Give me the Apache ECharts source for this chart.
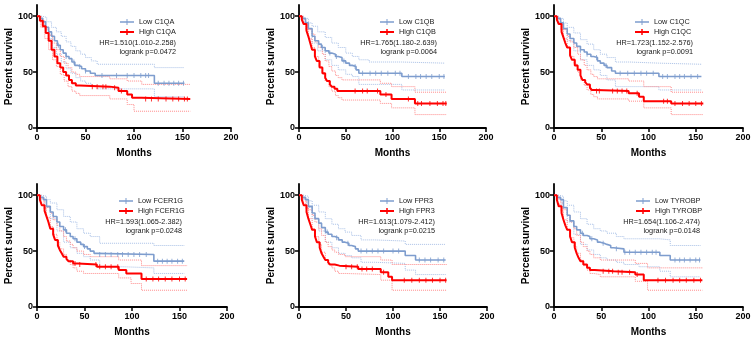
<!DOCTYPE html>
<html>
<head>
<meta charset="utf-8">
<script src="https://cdn.jsdelivr.net/npm/echarts@6/dist/echarts.min.js"></script>
<style>html,body{margin:0;padding:0;background:#fff}#chart{width:756px;height:341px}</style>
</head>
<body>
<div id="chart"></div>
<script>
// KM curves: [month, percent survival], step drops at each point
const c1qaLow = [[0,100],[3,98],[6,95],[9,90],[12,86],[15,82],[18,78],[21,74],[24,70],[27,67],[30,64],[33,62],[36,59],[39,56],[42,55],[46,53],[50,51],[55,49],[60,47],[121,40],[152,40]];
const c1qaLowUp = [[0,100],[5,99],[10,95],[15,90],[20,86],[25,82],[30,77],[35,73],[40,69],[45,66],[50,63],[56,60],[62,57],[121,54],[152,54]];
const c1qaLowLo = [[0,100],[4,95],[8,88],[12,80],[16,72],[20,66],[25,59],[30,53],[35,49],[40,45],[45,42],[50,40],[56,38],[62,35],[121,28],[152,28]];
const c1qaHigh = [[0,100],[3,96],[6,91],[9,85],[12,78],[15,70],[18,64],[21,58],[24,54],[27,50],[30,47],[33,43],[36,40],[40,38],[44,37],[75,36],[84,33],[93,30],[98,27],[108,26],[158,26]];
const c1qaHighUp = [[0,100],[4,96],[8,90],[12,83],[16,76],[20,70],[24,64],[28,58],[32,54],[36,50],[40,48],[44,46],[75,44],[93,42],[108,39],[158,39]];
const c1qaHighLo = [[0,100],[4,90],[8,80],[12,70],[16,61],[20,55],[24,48],[28,42],[32,37],[36,33],[40,31],[44,29],[75,26],[93,21],[100,15],[158,15]];
const c1qaLowCens = [22,30,38,44,50,67,82,93,100,107,112,115,125,131,136,141,146,151];
const c1qaHighCens = [57,62,68,71,80,87,112,118,125,133,140,146,152,155];

const c1qbLow = [[0,100],[3,98],[7,94],[10,89],[14,82],[17,78],[21,75],[24,72],[28,69],[32,67],[35,66],[39,64],[42,63],[46,60],[50,58],[54,56],[57,55],[61,52],[64,49],[110,46],[156,46]];
const c1qbLowUp = [[0,100],[5,98],[10,94],[14,91],[20,86],[28,81],[35,76],[42,72],[50,67],[57,64],[64,61],[75,59],[110,58],[156,58]];
const c1qbLowLo = [[0,100],[4,95],[8,88],[14,76],[20,69],[28,61],[35,56],[42,52],[50,48],[57,46],[64,39],[110,34],[156,34]];
const c1qbHigh = [[0,100],[3,97],[5,93],[8,87],[10,82],[12,76],[14,70],[17,64],[19,60],[22,54],[25,49],[28,45],[30,42],[33,39],[35,37],[38,35],[41,33],[87,30],[99,26],[124,22],[158,22]];
const c1qbHighUp = [[0,100],[4,97],[7,94],[10,88],[14,84],[17,77],[21,72],[25,66],[28,60],[32,55],[35,51],[39,47],[42,45],[46,43],[87,40],[99,37],[124,32],[158,32]];
const c1qbHighLo = [[0,100],[4,94],[7,88],[10,80],[14,72],[17,64],[21,55],[25,48],[28,42],[32,37],[35,33],[39,29],[42,27],[46,25],[87,22],[99,18],[124,12],[158,12]];
const c1qbLowCens = [25,33,40,48,60,68,76,82,88,95,103,108,117,125,130,136,142,150,155];
const c1qbHighCens = [60,68,73,84,93,117,127,131,140,148,154,157];

const c1qcLow = [[0,100],[3,98],[7,94],[10,89],[14,84],[17,80],[21,76],[24,73],[28,70],[32,68],[35,66],[39,64],[42,63],[46,60],[49,58],[53,56],[56,54],[61,51],[65,49],[111,46],[156,46]];
const c1qcLowUp = [[0,100],[5,98],[10,94],[14,90],[21,85],[28,79],[35,75],[42,70],[49,66],[56,63],[65,59],[80,58],[111,57],[156,57]];
const c1qcLowLo = [[0,100],[4,95],[8,88],[14,78],[21,69],[28,61],[35,56],[42,52],[49,47],[56,43],[65,37],[111,34],[156,34]];
const c1qcHigh = [[0,100],[3,97],[5,93],[8,86],[10,81],[12,76],[14,72],[17,65],[19,61],[22,56],[25,52],[28,47],[30,43],[33,41],[35,39],[38,36],[40,34],[44,33],[79,31],[90,28],[95,24],[124,22],[158,22]];
const c1qcHighUp = [[0,100],[4,97],[7,93],[10,88],[14,82],[17,77],[21,72],[25,66],[28,61],[32,56],[35,52],[39,48],[42,46],[46,44],[79,42],[95,37],[124,32],[158,32]];
const c1qcHighLo = [[0,100],[4,94],[7,88],[10,80],[14,72],[17,64],[21,57],[25,50],[28,43],[32,38],[35,34],[39,30],[42,28],[46,26],[79,24],[95,18],[124,12],[158,12]];
const c1qcLowCens = [28,35,45,55,70,78,85,92,98,105,115,120,128,133,138,145,152];
const c1qcHighCens = [45,48,62,67,72,77,88,116,120,128,136,143,150,156];

const fcer1gLow = [[0,100],[3,98],[7,96],[10,90],[14,85],[17,81],[21,76],[24,72],[28,69],[31,66],[35,63],[38,61],[42,58],[46,56],[49,54],[53,52],[56,50],[60,48],[63,47],[123,41],[155,41]];
const fcer1gLowUp = [[0,100],[5,99],[10,96],[14,93],[21,87],[28,81],[35,76],[42,70],[49,66],[56,63],[66,57],[123,55],[155,55]];
const fcer1gLowLo = [[0,100],[4,96],[8,89],[14,79],[21,68],[28,58],[35,53],[42,48],[49,45],[56,42],[66,36],[90,35],[123,30],[155,30]];
const fcer1gHigh = [[0,100],[3,96],[5,91],[8,86],[10,81],[12,76],[14,70],[17,65],[19,60],[22,55],[24,51],[26,48],[28,45],[31,43],[33,41],[38,39],[43,38],[63,36],[86,33],[94,30],[110,25],[158,25]];
const fcer1gHighUp = [[0,100],[4,97],[7,94],[10,89],[14,84],[17,78],[21,73],[24,68],[28,63],[31,59],[35,56],[38,53],[42,50],[49,47],[56,45],[86,42],[110,37],[158,37]];
const fcer1gHighLo = [[0,100],[4,93],[7,88],[10,80],[14,72],[17,65],[21,58],[24,52],[28,47],[31,42],[35,38],[38,35],[42,32],[49,30],[86,26],[99,21],[110,15],[158,15]];
const fcer1gLowCens = [30,40,50,66,72,78,85,90,96,102,108,115,127,132,137,142,148,153];
const fcer1gHighCens = [40,45,62,66,72,78,85,115,122,128,135,142,150,156];

const fpr3Low = [[0,100],[3,98],[7,96],[10,90],[14,84],[17,79],[21,75],[24,71],[28,67],[31,65],[35,63],[38,62],[42,60],[46,58],[49,57],[53,55],[56,54],[60,52],[63,50],[113,46],[124,42],[156,42]];
const fpr3LowUp = [[0,100],[5,99],[10,95],[14,91],[21,85],[28,79],[35,74],[42,70],[49,67],[56,64],[66,60],[80,59],[113,56],[156,56]];
const fpr3LowLo = [[0,100],[4,96],[8,89],[14,79],[21,68],[28,58],[35,53],[42,48],[49,46],[56,44],[66,40],[80,39],[113,33],[124,29],[156,29]];
const fpr3High = [[0,100],[3,96],[5,91],[8,85],[10,79],[12,74],[14,69],[17,63],[19,58],[22,53],[24,48],[26,45],[28,42],[31,40],[33,38],[38,37],[43,36],[63,34],[87,31],[95,27],[99,24],[157,24]];
const fpr3HighUp = [[0,100],[4,97],[7,94],[10,87],[14,82],[17,76],[21,70],[24,64],[28,58],[31,54],[35,51],[38,49],[42,47],[49,45],[87,42],[99,38],[157,38]];
const fpr3HighLo = [[0,100],[4,93],[7,88],[10,79],[14,70],[17,63],[21,56],[24,49],[28,42],[31,38],[35,35],[38,32],[42,30],[49,29],[87,24],[99,15],[157,15]];
const fpr3LowCens = [30,40,52,66,72,78,84,90,100,106,128,134,140,148,154];
const fpr3HighCens = [50,56,62,67,72,78,90,112,120,128,135,142,150,156];

const tyrobpLow = [[0,100],[3,98],[7,96],[10,89],[14,82],[17,77],[21,72],[24,69],[28,66],[31,64],[35,63],[38,61],[42,60],[46,58],[49,57],[53,56],[56,55],[60,53],[63,52],[74,49],[112,46],[123,42],[155,42]];
const tyrobpLowUp = [[0,100],[5,99],[10,95],[14,91],[21,85],[28,79],[35,74],[42,70],[49,68],[56,66],[66,63],[74,61],[112,60],[123,55],[155,55]];
const tyrobpLowLo = [[0,100],[4,96],[8,88],[14,76],[21,65],[28,56],[35,51],[42,47],[49,44],[56,42],[66,40],[74,38],[90,36],[112,32],[123,27],[155,27]];
const tyrobpHigh = [[0,100],[3,96],[5,90],[8,84],[10,78],[12,73],[14,69],[17,63],[19,58],[22,53],[24,48],[26,44],[28,41],[31,38],[35,35],[38,33],[43,32],[63,31],[86,29],[95,24],[157,24]];
const tyrobpHighUp = [[0,100],[4,97],[7,93],[10,87],[14,82],[17,76],[21,70],[24,64],[28,58],[31,54],[35,50],[38,47],[42,44],[49,42],[86,39],[99,35],[157,35]];
const tyrobpHighLo = [[0,100],[4,92],[7,86],[10,78],[14,69],[17,62],[21,54],[24,48],[28,42],[31,37],[35,33],[38,30],[42,29],[49,27],[86,23],[99,15],[157,15]];
const tyrobpLowCens = [30,40,52,66,75,80,86,92,98,104,108,128,133,138,144,150,154];
const tyrobpHighCens = [52,58,62,68,72,80,88,110,118,126,133,140,148,155];

const genes = ['C1QA', 'C1QB', 'C1QC', 'FCER1G', 'FPR3', 'TYROBP'];
const hrLabels = ['HR=1.510(1.010-2.258)', 'HR=1.765(1.180-2.639)', 'HR=1.723(1.152-2.576)',
                  'HR=1.593(1.065-2.382)', 'HR=1.613(1.079-2.412)', 'HR=1.654(1.106-2.474)'];
const pLabels = ['logrank p=0.0472', 'logrank p=0.0064', 'logrank p=0.0091',
                 'logrank p=0.0248', 'logrank p=0.0215', 'logrank p=0.0148'];
const xTicks = [0, 50, 100, 150, 200];
const yTicks = [0, 50, 100];

const panels = [
  [c1qaLow, c1qaLowUp, c1qaLowLo, c1qaHigh, c1qaHighUp, c1qaHighLo, c1qaLowCens, c1qaHighCens],
  [c1qbLow, c1qbLowUp, c1qbLowLo, c1qbHigh, c1qbHighUp, c1qbHighLo, c1qbLowCens, c1qbHighCens],
  [c1qcLow, c1qcLowUp, c1qcLowLo, c1qcHigh, c1qcHighUp, c1qcHighLo, c1qcLowCens, c1qcHighCens],
  [fcer1gLow, fcer1gLowUp, fcer1gLowLo, fcer1gHigh, fcer1gHighUp, fcer1gHighLo, fcer1gLowCens, fcer1gHighCens],
  [fpr3Low, fpr3LowUp, fpr3LowLo, fpr3High, fpr3HighUp, fpr3HighLo, fpr3LowCens, fpr3HighCens],
  [tyrobpLow, tyrobpLowUp, tyrobpLowLo, tyrobpHigh, tyrobpHighUp, tyrobpHighLo, tyrobpLowCens, tyrobpHighCens],
];

// layout (px)
const gridBox = [
  { left: 37, width: 194, top: 5 }, { left: 299, width: 187, top: 5 }, { left: 554, width: 189, top: 5 },
  { left: 37, width: 190, top: 184 }, { left: 299, width: 188, top: 184 }, { left: 554, width: 189, top: 184 },
];
const legendLeft = [120, 380, 635, 119, 380, 636];
const statRight = [176, 437, 693, 182, 435, 700];

const FONT = 'Liberation Sans';
const BLUE = '#7e9dce', RED = '#ff0000';
const BLUE_CI = '#a9c0e6', RED_CI = '#ff8a8a';
const iconLow = 'path://M0,2.25H14V3.75H0Z M6.5,0H7.5V6H6.5Z';
const iconHigh = 'path://M0,2H14V4H0Z M6.25,0H7.75V6H6.25Z';

function survAt(curve, t) {
  let v = curve[0][1];
  for (const p of curve) { if (p[0] <= t) v = p[1]; else break; }
  return v;
}

const grid = [], xAxis = [], yAxis = [], legend = [], series = [], graphic = [];

panels.forEach((p, i) => {
  const [low, lowUp, lowLo, high, highUp, highLo, lowCens, highCens] = p;
  const g = gridBox[i];
  const row0 = g.top;
  grid.push({ left: g.left, width: g.width, top: g.top, height: 123 });
  xAxis.push({
    gridIndex: i, type: 'value', min: 0, max: 200, interval: 50,
    name: 'Months', nameLocation: 'middle', nameGap: 20,
    nameTextStyle: { fontFamily: FONT, fontWeight: 'bold', fontSize: 10, color: '#000' },
    axisLine: { onZero: false, lineStyle: { color: '#000', width: 1.8 } },
    axisTick: { length: 4, customValues: xTicks, lineStyle: { color: '#000', width: 1.5 } },
    axisLabel: { customValues: xTicks, margin: 5, fontFamily: FONT, fontWeight: 'bold', fontSize: 9, color: '#000' },
    splitLine: { show: false },
  });
  yAxis.push({
    gridIndex: i, type: 'value', min: 0, max: 110, interval: 50,
    name: 'Percent survival', nameLocation: 'middle', nameGap: 23,
    nameTextStyle: { fontFamily: FONT, fontWeight: 'bold', fontSize: 10, color: '#000' },
    axisLine: { show: true, onZero: false, lineStyle: { color: '#000', width: 1.8 } },
    axisTick: { show: true, length: 4, customValues: yTicks, lineStyle: { color: '#000', width: 1.5 } },
    axisLabel: { customValues: yTicks, margin: 4, fontFamily: FONT, fontWeight: 'bold', fontSize: 9, color: '#000' },
    splitLine: { show: false },
  });

  const lowName = 'Low ' + genes[i], highName = 'High ' + genes[i];
  legend.push({
    left: legendLeft[i], top: row0 + 12, orient: 'vertical', padding: 0, itemGap: 0,
    itemWidth: 14, itemHeight: 6, selectedMode: false,
    data: [{ name: lowName, icon: iconLow }, { name: highName, icon: iconHigh }],
    textStyle: { fontFamily: FONT, fontSize: 7.3, color: '#1a1a1a', lineHeight: 10 },
  });

  const line = (name, data, color, width, dotted, z) => ({
    name, type: 'line', xAxisIndex: i, yAxisIndex: i, data, step: 'end', symbol: 'none',
    silent: true, z, lineStyle: { color, width, type: dotted ? 'dotted' : 'solid' }, itemStyle: { color },
  });
  const cens = (curve, times, color) => ({
    type: 'scatter', xAxisIndex: i, yAxisIndex: i, symbol: 'rect', symbolSize: [1, 5],
    silent: true, z: 5, itemStyle: { color }, data: times.map(t => [t, survAt(curve, t)]),
  });
  series.push(
    line(lowName + ' upper', lowUp, BLUE_CI, 1, true, 2),
    line(lowName + ' lower', lowLo, BLUE_CI, 1, true, 2),
    line(highName + ' upper', highUp, RED_CI, 1, true, 2),
    line(highName + ' lower', highLo, RED_CI, 1, true, 2),
    line(lowName, low, BLUE, 1.6, false, 3),
    line(highName, high, RED, 2, false, 4),
    cens(low, lowCens, BLUE),
    cens(high, highCens, RED),
  );

  const txt = (text, y) => ({
    type: 'text', x: statRight[i], y,
    style: { text, align: 'right', verticalAlign: 'middle', textAlign: 'right', textVerticalAlign: 'middle',
             fontFamily: FONT, fontSize: 7.3, fill: '#1a1a1a' },
  });
  graphic.push(txt(hrLabels[i], row0 + 38), txt(pLabels[i], row0 + 47));
});

const chart = echarts.init(document.getElementById('chart'));
chart.setOption({ animation: false, backgroundColor: '#fff', grid, xAxis, yAxis, legend, series, graphic });
</script>
</body>
</html>
